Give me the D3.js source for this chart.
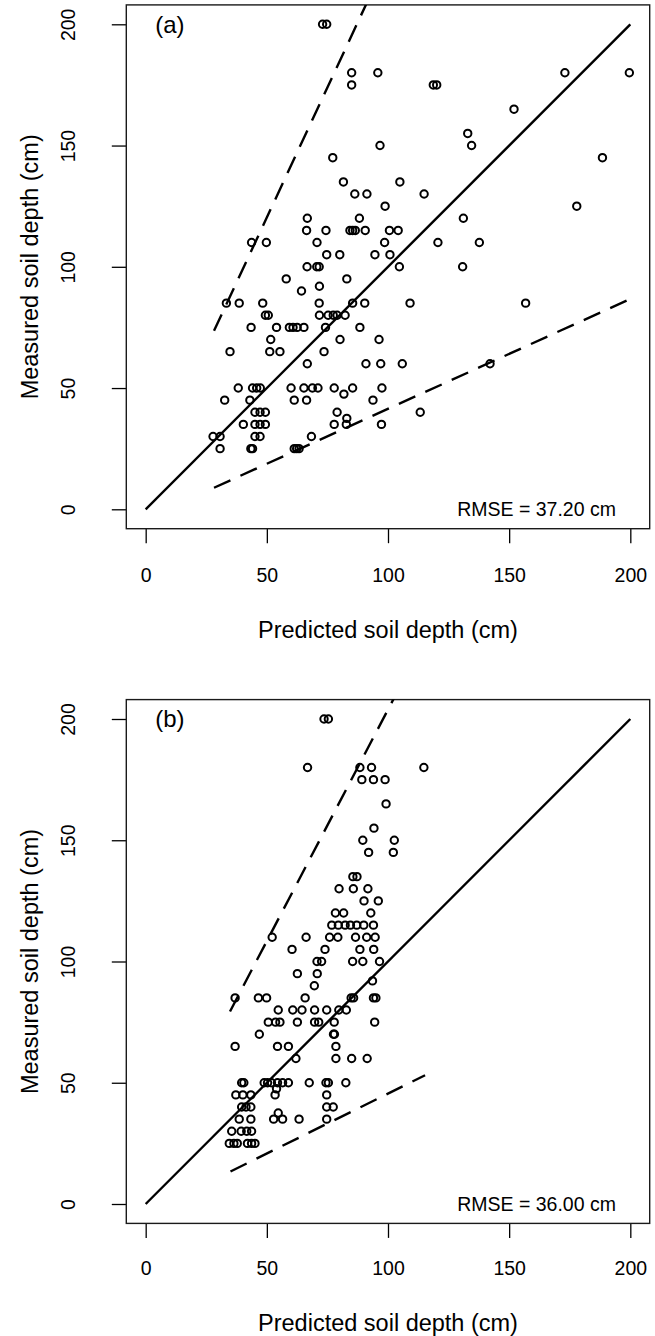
<!DOCTYPE html>
<html><head><meta charset="utf-8">
<script src="https://cdn.jsdelivr.net/npm/d3@7"></script>
<style>
body{margin:0;background:#fff}
svg{display:block}
text{font-family:"Liberation Sans",Arial,Helvetica,sans-serif;fill:#000}
</style>
</head><body><div id="chart"></div>
<script>
// ---------- data ----------
const tickValues = [0, 50, 100, 150, 200];
const panelLabels = ["(a)", "(b)"];
const rmseLabels = ["RMSE = 37.20 cm", "RMSE = 36.00 cm"];
const xTitle = "Predicted soil depth (cm)";
const yTitle = "Measured soil depth (cm)";

// Panel (a): predicted (x) and measured (y)
const predA = [73.0,74.7, 85.0,95.8,173.0,199.6, 85.0,118.7,120.1, 152.0, 132.9, 96.7,134.5, 77.2,188.5,
  81.6,104.9, 86.3,91.3,114.9, 98.8,177.9, 66.7,88.2,131.1,
  66.4,74.4,84.3,85.4,86.5,90.6,100.6,104.2, 43.7,49.8,70.7,98.6,120.6,137.7,
  74.7,80.1,94.6,100.8, 66.6,70.6,71.6,104.7,130.8, 58.0,83.0, 71.7, 64.3,
  33.3,38.6,48.3,71.6,85.4,90.4,109.1,156.8, 49.4,50.6,71.7,75.3,77.4,79.0,82.3,
  43.5,54.0,59.3,60.8,62.5,65.3,74.2,88.4, 51.6,80.2,96.3, 34.8,51.2,55.4,73.6,
  66.7,90.9,97.0,105.9,142.1, 38.2,44.1,45.8,47.3,60.0,65.3,68.8,71.1,77.8,85.4,97.5,
  81.8, 32.6,43.0,61.3,66.4,93.8, 45.1,47.2,49.4,79.0,113.3, 83.0,
  40.3,45.1,47.2,49.4,77.8,82.8,97.3, 27.8,30.7,45.1,47.2,68.4, 30.7,43.4,44.1,61.3,62.3,63.3];
const measA = [200,200, 180,180,180,180, 175,175,175, 165, 155, 150,150, 145,145,
  135,135, 130,130,130, 125,125, 120,120,120,
  115,115,115,115,115,115,115,115, 110,110,110,110,110,110,
  105,105,105,105, 100,100,100,100,100, 95,95, 92, 90,
  85,85,85,85,85,85,85,85, 80,80,80,80,80,80,80,
  75,75,75,75,75,75,75,75, 70,70,70, 65,65,65,65,
  60,60,60,60,60, 50,50,50,50,50,50,50,50,50,50,50,
  47.5, 45,45,45,45,45, 40,40,40,40,40, 37.5,
  35,35,35,35,35,35,35, 30,30,30,30,30, 25,25,25,25,25,25];

// Panel (b)
const predB = [73.6,75.4, 66.8,88.4,93.2,114.8, 89.2,94.0,98.8, 99.2, 94.2, 89.6,102.6, 92.0,102.2,
  85.5,87.2, 79.8,85.7,91.7, 90.1,96.0, 78.3,81.7,92.9,
  76.8,79.5,82.3,84.5,87.1,90.0,94.0, 52.2,66.2,75.9,79.3,86.6,91.2,94.7,
  60.4,74.0,88.4,94.1, 70.7,72.6,85.4,89.6,96.5, 62.6,70.8, 93.6, 69.6,
  36.9,46.5,49.9,65.8,84.8,85.8,94.0,95.0, 54.7,60.7,64.5,69.7,74.7,79.7,82.8,
  50.6,53.6,55.4,62.6,69.7,71.4,77.8,94.5, 46.9,77.5,77.9, 36.9,54.4,58.9,78.5,
  62.0,78.5,85.0,91.4, 39.6,40.5,48.9,50.3,51.9,54.4,56.5,58.9,67.5,74.4,75.4,82.6,
  54.0, 37.2,40.1,43.4,53.4,74.7, 39.6,41.4,43.4,74.7,77.4, 54.7,
  38.6,43.4,52.8,56.5,63.3,74.7, 35.5,39.4,41.7,43.7, 34.5,36.4,37.8,42.0,43.7,45.1];
const measB = [200,200, 180,180,180,180, 175,175,175, 165, 155, 150,150, 145,145,
  135,135, 130,130,130, 125,125, 120,120,120,
  115,115,115,115,115,115,115, 110,110,110,110,110,110,110,
  105,105,105,105, 100,100,100,100,100, 95,95, 92, 90,
  85,85,85,85,85,85,85,85, 80,80,80,80,80,80,80,
  75,75,75,75,75,75,75,75, 70,70,70, 65,65,65,65,
  60,60,60,60, 50,50,50,50,50,50,50,50,50,50,50,50,
  47.5, 45,45,45,45,45, 40,40,40,40,40, 37.5,
  35,35,35,35,35,35, 30,30,30,30, 25,25,25,25,25,25];

// reference lines (x, y end points)
const oneToOneX = [0, 200], oneToOneY = [0, 200];
const upperAX = [28.2, 91.8], upperAY = [73.6, 210];
const lowerAX = [28.2, 199.9], lowerAY = [8.9, 86.7];
const upperBX = [34.8, 103.2], upperBY = [79.4, 210];
const lowerBX = [35.0, 115.3], lowerBY = [13.4, 53.1];

// ---------- drawing ----------
const W = 655, H = 1336;
const svg = d3.select("#chart").append("svg").attr("width", W).attr("height", H);

const panels = [
  {pred: predA, meas: measA, up: [upperAX, upperAY], lo: [lowerAX, lowerAY], top: 4.9, bottom: 528.7, label: panelLabels[0], rmse: rmseLabels[0], tickY: 575, titleY: 630},
  {pred: predB, meas: measB, up: [upperBX, upperBY], lo: [lowerBX, lowerBY], top: 699.6, bottom: 1223.4, label: panelLabels[1], rmse: rmseLabels[1], tickY: 1268, titleY: 1323}
];

const left = 126.3, right = 649.7;
const x = d3.scaleLinear().domain([-8, 208]).range([left, right]);

panels.forEach((p, i) => {
  const y = d3.scaleLinear().domain([-8, 208]).range([p.bottom, p.top]);
  const g = svg.append("g");
  const clipId = "clip" + i;
  svg.append("clipPath").attr("id", clipId).append("rect")
    .attr("x", left).attr("y", p.top).attr("width", right - left).attr("height", p.bottom - p.top);

  // axes
  const xa = g.append("g").attr("transform", `translate(0,${p.bottom})`)
    .call(d3.axisBottom(x).tickValues(tickValues).tickSize(14.5).tickFormat(d3.format("d")));
  xa.select(".domain").remove();
  xa.selectAll("line").attr("stroke", "#000").attr("stroke-width", 1.3);
  xa.selectAll("text").attr("y", p.tickY - p.bottom).attr("dy", "0.35em")
    .style("font-size", "19.5px").style("font-family", '"Liberation Sans",Arial,sans-serif').attr("fill", "#000");

  const ya = g.append("g").attr("transform", `translate(${left},0)`)
    .call(d3.axisLeft(y).tickValues(tickValues).tickSize(14.5).tickFormat(d3.format("d")));
  ya.select(".domain").remove();
  ya.selectAll("line").attr("stroke", "#000").attr("stroke-width", 1.3);
  ya.selectAll("text").attr("x", null).attr("dy", "0.35em").attr("text-anchor", "middle")
    .attr("transform", `translate(${68 - left},0) rotate(-90)`)
    .style("font-size", "19.5px").style("font-family", '"Liberation Sans",Arial,sans-serif').attr("fill", "#000");

  // box
  g.append("rect").attr("x", left).attr("y", p.top).attr("width", right - left).attr("height", p.bottom - p.top)
    .attr("fill", "none").attr("stroke", "#1a1a1a").attr("stroke-width", 1.4);

  const lineGen = d3.line().x(d => x(d[0])).y(d => y(d[1]));
  const lines = g.append("g").attr("clip-path", `url(#${clipId})`);
  lines.append("path").attr("d", lineGen(d3.zip(oneToOneX, oneToOneY)))
    .attr("fill", "none").attr("stroke", "#000").attr("stroke-width", 2.4);
  [p.up, p.lo].forEach(l => {
    lines.append("path").attr("d", lineGen(d3.zip(l[0], l[1])))
      .attr("fill", "none").attr("stroke", "#000").attr("stroke-width", 2.4)
      .attr("stroke-dasharray", "18,11");
  });

  // points
  g.append("g").selectAll("circle").data(d3.zip(p.pred, p.meas)).join("circle")
    .attr("cx", d => x(d[0])).attr("cy", d => y(d[1])).attr("r", 3.7)
    .attr("fill", "none").attr("stroke", "#000").attr("stroke-width", 2);

  // labels
  g.append("text").attr("x", x(10)).attr("y", y(200)).attr("dy", "0.35em").attr("text-anchor", "middle")
    .style("font-size", "24px").text(p.label);
  g.append("text").attr("x", x(161.3)).attr("y", y(0)).attr("dy", "0.35em").attr("text-anchor", "middle")
    .style("font-size", "19.5px").text(p.rmse);

  g.append("text").attr("x", (left + right) / 2).attr("y", p.titleY).attr("dy", "0.35em").attr("text-anchor", "middle")
    .style("font-size", "23.5px").text(xTitle);
  g.append("text").attr("transform", `translate(30,${(p.top + p.bottom) / 2}) rotate(-90)`)
    .attr("dy", "0.35em").attr("text-anchor", "middle")
    .style("font-size", "23.5px").text(yTitle);
});
</script>
</body></html>
